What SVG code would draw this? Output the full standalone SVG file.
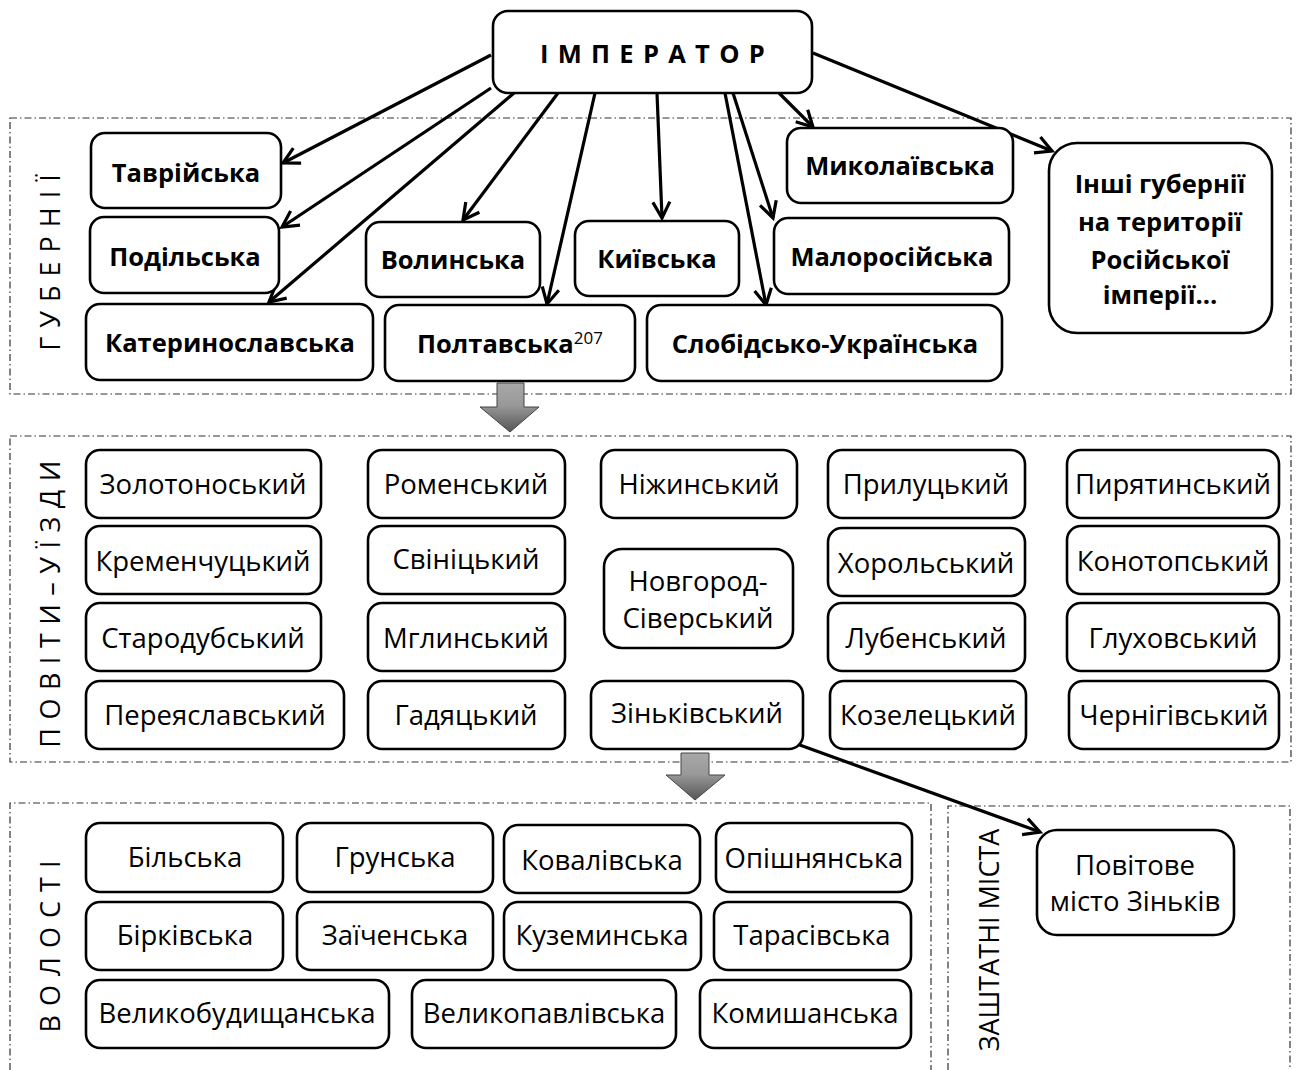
<svg xmlns="http://www.w3.org/2000/svg" width="1301" height="1070" viewBox="0 0 1301 1070">
  <style>
    text { font-family: "Open Sans", Lato, "Liberation Sans", sans-serif; fill: #000; }
    .box { fill: #fff; stroke: #000; stroke-width: 2.6; }
    .b { font-weight: bold; font-size: 25.5px; text-anchor: middle; }
    .n { font-size: 27.5px; text-anchor: middle; }
    .zone { fill: none; stroke: #333; stroke-width: 1.2; stroke-dasharray: 7 3 1.5 3; }
    .lbl { font-size: 27px; text-anchor: middle; }
    .link { stroke: #000; stroke-width: 3.2; fill: none; marker-end: url(#arr); }
    .blk { fill: url(#grey); stroke: #444; stroke-width: 1; }
  </style>
  <defs>
    <marker id="arr" viewBox="0 0 22 22" refX="19" refY="11" markerWidth="22" markerHeight="22" markerUnits="userSpaceOnUse" orient="auto">
      <path d="M3,2.5 L19,11 L3,19.5" fill="none" stroke="#000" stroke-width="3.2" stroke-linejoin="miter"/>
    </marker>
    <linearGradient id="grey" x1="0" y1="0" x2="0" y2="1">
      <stop offset="0" stop-color="#a8a8a8"/>
      <stop offset="0.45" stop-color="#999"/>
      <stop offset="1" stop-color="#555"/>
    </linearGradient>
  </defs>

  <!-- level frames -->
  <g id="zones">
    <rect class="zone" x="10" y="118" width="1281" height="276"/>
    <rect class="zone" x="10" y="436" width="1281" height="326"/>
    <path class="zone" d="M10,1070 V803 H931 V1070"/>
    <path class="zone" d="M948,1070 V806 H1290 V1070"/>
  </g>

  <!-- level captions -->
  <g id="captions">
    <text class="lbl" letter-spacing="9" transform="translate(60,258) rotate(-90)">ГУБЕРНІЇ</text>
    <text class="lbl" letter-spacing="8.5" transform="translate(60,600) rotate(-90)">ПОВІТИ–УЇЗДИ</text>
    <text class="lbl" letter-spacing="9" transform="translate(60,942) rotate(-90)">ВОЛОСТІ</text>
    <text class="lbl" transform="translate(999,940) rotate(-90)">ЗАШТАТНІ МІСТА</text>
  </g>

  <!-- transitions between levels -->
  <g id="level-arrows">
    <path class="blk" d="M497,383 H524 V407 H539 L510,432 L480,407 H497 Z"/>
    <path class="blk" d="M681,753 H709 V775 H725 L695,800 L666,775 H681 Z"/>
  </g>

  <!-- connectors -->
  <g id="connectors">
    <line class="link" x1="491" y1="55" x2="283" y2="163"/>
    <line class="link" x1="491" y1="88" x2="282" y2="227"/>
    <line class="link" x1="514" y1="93" x2="269" y2="302"/>
    <line class="link" x1="558" y1="93" x2="463" y2="220"/>
    <line class="link" x1="595" y1="93" x2="547" y2="304"/>
    <line class="link" x1="657" y1="93" x2="662" y2="218"/>
    <line class="link" x1="725" y1="93" x2="766" y2="305"/>
    <line class="link" x1="733" y1="93" x2="773" y2="218"/>
    <line class="link" x1="779" y1="93" x2="813" y2="127"/>
    <line class="link" x1="813" y1="53" x2="1052" y2="151"/>
    <line class="link" x1="797" y1="744" x2="1040" y2="832"/>
  </g>

  <!-- top node -->
  <g id="emperor">
    <rect class="box" x="493" y="11" width="319" height="82" rx="15"/>
    <text class="b" x="657" y="63" font-size="28" letter-spacing="9.3">ІМПЕРАТОР</text>
  </g>

  <!-- governorates -->
  <g id="gub-tavriyska"><rect class="box" x="91" y="133" width="190" height="75" rx="14"/><text class="b" x="186" y="182">Таврійська</text></g>
  <g id="gub-podilska"><rect class="box" x="90" y="217" width="189" height="76" rx="14"/><text class="b" x="185" y="266">Подільська</text></g>
  <g id="gub-katerynoslavska"><rect class="box" x="86" y="304" width="287" height="76" rx="14"/><text class="b" x="230" y="352">Катеринославська</text></g>
  <g id="gub-volynska"><rect class="box" x="366" y="222" width="174" height="75" rx="14"/><text class="b" x="453" y="269">Волинська</text></g>
  <g id="gub-poltavska"><rect class="box" x="385" y="305" width="250" height="76" rx="14"/><text class="b" x="510" y="353">Полтавська<tspan font-size="17" font-weight="normal" dy="-9">207</tspan></text></g>
  <g id="gub-kyivska"><rect class="box" x="575" y="221" width="164" height="75" rx="14"/><text class="b" x="657" y="268">Київська</text></g>
  <g id="gub-mykolaivska"><rect class="box" x="787" y="128" width="226" height="75" rx="14"/><text class="b" x="900" y="175">Миколаївська</text></g>
  <g id="gub-malorosiyska"><rect class="box" x="774" y="218" width="235" height="76" rx="14"/><text class="b" x="892" y="266">Малоросійська</text></g>
  <g id="gub-slobidsko-ukrainska"><rect class="box" x="647" y="305" width="355" height="76" rx="14"/><text class="b" x="825" y="353">Слобідсько-Українська</text></g>
  <g id="gub-inshi"><rect class="box" x="1049" y="143" width="223" height="190" rx="28"/>
    <text class="b" x="1160" y="193">Інші губернії</text>
    <text class="b" x="1160" y="231">на території</text>
    <text class="b" x="1160" y="269">Російської</text>
    <text class="b" x="1160" y="304">імперії…</text>
  </g>

  <!-- districts -->
  <g id="pov-zolotonoskyi"><rect class="box" x="86" y="450" width="235" height="68" rx="14"/><text class="n" x="203" y="494">Золотоноський</text></g>
  <g id="pov-kremenchutskyi"><rect class="box" x="86" y="526" width="235" height="68" rx="14"/><text class="n" x="203" y="571">Кременчуцький</text></g>
  <g id="pov-starodubskyi"><rect class="box" x="86" y="603" width="235" height="68" rx="14"/><text class="n" x="203" y="648">Стародубський</text></g>
  <g id="pov-pereiaslavskyi"><rect class="box" x="86" y="681" width="258" height="68" rx="14"/><text class="n" x="215" y="725">Переяславський</text></g>
  <g id="pov-romenskyi"><rect class="box" x="368" y="450" width="197" height="68" rx="14"/><text class="n" x="466" y="494">Роменський</text></g>
  <g id="pov-svinytskyi"><rect class="box" x="368" y="526" width="197" height="68" rx="14"/><text class="n" x="466" y="569">Свініцький</text></g>
  <g id="pov-mhlynskyi"><rect class="box" x="368" y="603" width="197" height="68" rx="14"/><text class="n" x="466" y="648">Мглинський</text></g>
  <g id="pov-hadiatskyi"><rect class="box" x="368" y="681" width="197" height="68" rx="14"/><text class="n" x="466" y="725">Гадяцький</text></g>
  <g id="pov-nizhynskyi"><rect class="box" x="601" y="450" width="196" height="68" rx="14"/><text class="n" x="699" y="494">Ніжинський</text></g>
  <g id="pov-novhorod-siverskyi"><rect class="box" x="604" y="549" width="189" height="99" rx="18"/>
    <text class="n" x="698" y="591">Новгород-</text>
    <text class="n" x="698" y="628">Сіверський</text>
  </g>
  <g id="pov-zinkivskyi"><rect class="box" x="591" y="681" width="212" height="68" rx="14"/><text class="n" x="697" y="723">Зіньківський</text></g>
  <g id="pov-prylutskyi"><rect class="box" x="828" y="450" width="197" height="68" rx="14"/><text class="n" x="926" y="494">Прилуцький</text></g>
  <g id="pov-khorolskyi"><rect class="box" x="828" y="528" width="197" height="68" rx="14"/><text class="n" x="926" y="573">Хорольський</text></g>
  <g id="pov-lubenskyi"><rect class="box" x="828" y="603" width="197" height="68" rx="14"/><text class="n" x="926" y="648">Лубенський</text></g>
  <g id="pov-kozeletskyi"><rect class="box" x="830" y="681" width="196" height="68" rx="14"/><text class="n" x="928" y="725">Козелецький</text></g>
  <g id="pov-pyriatynskyi"><rect class="box" x="1067" y="450" width="212" height="68" rx="14"/><text class="n" x="1173" y="494">Пирятинський</text></g>
  <g id="pov-konotopskyi"><rect class="box" x="1067" y="526" width="212" height="68" rx="14"/><text class="n" x="1173" y="571">Конотопський</text></g>
  <g id="pov-hlukhovskyi"><rect class="box" x="1067" y="603" width="212" height="68" rx="14"/><text class="n" x="1173" y="648">Глуховський</text></g>
  <g id="pov-chernihivskyi"><rect class="box" x="1069" y="681" width="210" height="68" rx="14"/><text class="n" x="1174" y="725">Чернігівський</text></g>

  <!-- volosts -->
  <g id="vol-bilska"><rect class="box" x="86" y="823" width="197" height="69" rx="14"/><text class="n" x="185" y="867">Більська</text></g>
  <g id="vol-grunska"><rect class="box" x="297" y="823" width="196" height="69" rx="14"/><text class="n" x="395" y="867">Грунська</text></g>
  <g id="vol-kovalivska"><rect class="box" x="504" y="825" width="196" height="68" rx="14"/><text class="n" x="602" y="870">Ковалівська</text></g>
  <g id="vol-opishnianska"><rect class="box" x="716" y="823" width="196" height="69" rx="14"/><text class="n" x="814" y="868">Опішнянська</text></g>
  <g id="vol-birkivska"><rect class="box" x="86" y="902" width="197" height="68" rx="14"/><text class="n" x="185" y="945">Бірківська</text></g>
  <g id="vol-zaichenska"><rect class="box" x="297" y="902" width="196" height="68" rx="14"/><text class="n" x="395" y="945">Заїченська</text></g>
  <g id="vol-kuzemynska"><rect class="box" x="504" y="902" width="197" height="68" rx="14"/><text class="n" x="602" y="945">Куземинська</text></g>
  <g id="vol-tarasivska"><rect class="box" x="714" y="902" width="197" height="68" rx="14"/><text class="n" x="812" y="945">Тарасівська</text></g>
  <g id="vol-velykobudyshchanska"><rect class="box" x="86" y="980" width="303" height="68" rx="14"/><text class="n" x="237" y="1023">Великобудищанська</text></g>
  <g id="vol-velykopavlivska"><rect class="box" x="412" y="980" width="264" height="68" rx="14"/><text class="n" x="544" y="1023">Великопавлівська</text></g>
  <g id="vol-komyshanska"><rect class="box" x="700" y="980" width="211" height="68" rx="14"/><text class="n" x="805" y="1023">Комишанська</text></g>

  <!-- out-of-staff town -->
  <g id="town-zinkiv"><rect class="box" x="1037" y="830" width="197" height="105" rx="20"/>
    <text class="n" x="1135" y="875">Повітове</text>
    <text class="n" x="1135" y="911">місто Зіньків</text>
  </g>
</svg>
